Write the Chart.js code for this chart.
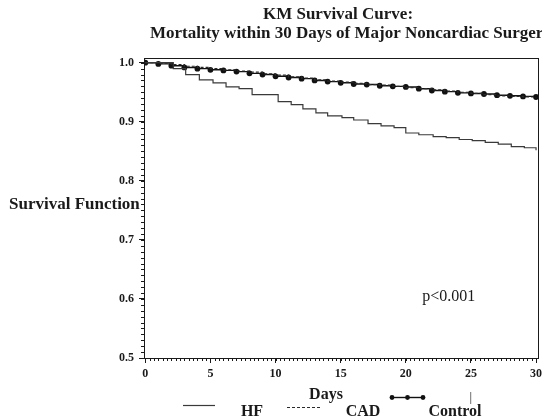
<!DOCTYPE html>
<html>
<head>
<meta charset="utf-8">
<script src="https://cdn.jsdelivr.net/npm/chart.js@4.4.1/dist/chart.umd.min.js"></script>
<style>
  body { margin: 0; background: #fff; }
  #wrap { width: 542px; height: 419px; }
</style>
</head>
<body>
<div id="wrap"><canvas id="km"></canvas></div>
<script>
// KM survival
const hfDays = [0, 2.15, 3.1, 4.15, 5.2, 6.2, 7.2, 8.2, 10.2, 11.2, 12.1, 13.1, 14.0, 15.1, 16.0, 17.1, 18.1, 19.1, 20.0, 21.0, 22.1, 23.1, 24.1, 25.1, 26.1, 27.1, 28.1, 29.1, 30.0];
const hfSurv = [1.0, 0.990, 0.980, 0.971, 0.966, 0.959, 0.956, 0.946, 0.934, 0.929, 0.922, 0.915, 0.910, 0.907, 0.903, 0.897, 0.893, 0.890, 0.881, 0.878, 0.875, 0.873, 0.870, 0.868, 0.865, 0.862, 0.858, 0.856, 0.852];

const dayList = [0, 1, 2, 3, 4, 5, 6, 7, 8, 9, 10, 11, 12, 13, 14, 15, 16, 17, 18, 19, 20, 21, 22, 23, 24, 25, 26, 27, 28, 29, 30];
const cadSurv = [1.0, 0.999, 0.997, 0.994, 0.992, 0.990, 0.988, 0.986, 0.984, 0.981, 0.979, 0.976, 0.974, 0.971, 0.969, 0.967, 0.965, 0.963, 0.962, 0.960, 0.958, 0.956, 0.954, 0.952, 0.950, 0.948, 0.946, 0.944, 0.943, 0.942, 0.941];
const ctrlSurv = [1.0, 0.998, 0.995, 0.992, 0.990, 0.988, 0.987, 0.985, 0.982, 0.980, 0.977, 0.975, 0.973, 0.970, 0.968, 0.966, 0.964, 0.963, 0.961, 0.960, 0.959, 0.956, 0.953, 0.951, 0.949, 0.948, 0.947, 0.945, 0.944, 0.943, 0.942];

const xTicks = [0, 5, 10, 15, 20, 25, 30];
const yTicks = [0.5, 0.6, 0.7, 0.8, 0.9, 1.0];
const titleLines = ['KM Survival Curve:', 'Mortality within 30 Days of Major Noncardiac Surgery'];
const pText = 'p<0.001';

const SERIF = '"Liberation Serif", "Times New Roman", serif';
const INK = '#1a1a1a';

function pts(xs, ys) {
    return xs.map((x, i) => ({ x: x, y: ys[i] }));
}

// titles, frame, minor ticks, labels and the legend row
const decor = {
    id: 'decor',
    afterDraw(chart) {
        const ctx = chart.ctx;
        const a = chart.chartArea;
        const xs = chart.scales.x, ys = chart.scales.y;
        ctx.save();
        ctx.fillStyle = INK;
        ctx.strokeStyle = INK;

        // frame top/right
        ctx.lineWidth = 1;
        ctx.strokeRect(a.left + 0.5, a.top + 0.5, a.right - a.left, a.bottom - a.top);

        // minor ticks
        ctx.beginPath();
        for (let i = 0; i <= 50; i++) {
            const py = Math.round(ys.getPixelForValue(0.5 + i * 0.01)) + 0.5;
            ctx.moveTo(a.left - 3, py);
            ctx.lineTo(a.left, py);
        }
        for (let i = 0; i <= 90; i++) {
            const px = Math.round(xs.getPixelForValue(i / 3)) + 0.5;
            ctx.moveTo(px, a.bottom);
            ctx.lineTo(px, a.bottom + 3);
        }
        ctx.stroke();

        // titles
        ctx.textBaseline = 'middle';
        ctx.font = 'bold 17px ' + SERIF;
        ctx.textAlign = 'center';
        ctx.fillText(titleLines[0], 338, 15);
        ctx.textAlign = 'left';
        ctx.fillText(titleLines[1], 150, 34);

        // y title, horizontal
        ctx.font = 'bold 17px ' + SERIF;
        ctx.fillText('Survival Function', 9, 205);

        // p value
        ctx.font = '16px ' + SERIF;
        ctx.textAlign = 'center';
        ctx.fillText(pText, xs.getPixelForValue(23.3), ys.getPixelForValue(0.603));

        // x title
        ctx.font = 'bold 16px ' + SERIF;
        ctx.fillText('Days', 326, 395);

        // stray mark under 25
        ctx.font = '13px ' + SERIF;
        ctx.fillText('|', xs.getPixelForValue(25), 398);

        // legend
        const ds = chart.data.datasets;
        const items = [
            { d: ds[0], x0: 183, x1: 215, y: 405, tx: 252 },
            { d: ds[1], x0: 287, x1: 320, y: 407, tx: 363 },
            { d: ds[2], x0: 392, x1: 423, y: 397, tx: 455 }
        ];
        items.forEach(it => {
            ctx.save();
            ctx.strokeStyle = it.d.borderColor;
            ctx.lineWidth = it.d.borderWidth;
            ctx.setLineDash(it.d.borderDash || []);
            ctx.beginPath();
            ctx.moveTo(it.x0, it.y + 0.5);
            ctx.lineTo(it.x1, it.y + 0.5);
            ctx.stroke();
            if (it.d.pointRadius > 0) {
                ctx.fillStyle = it.d.pointBackgroundColor;
                [it.x0, (it.x0 + it.x1) / 2, it.x1].forEach(px => {
                    ctx.beginPath();
                    ctx.arc(px, it.y + 0.5, 2.4, 0, Math.PI * 2);
                    ctx.fill();
                });
            }
            ctx.restore();
            ctx.font = 'bold 16px ' + SERIF;
            ctx.textAlign = 'center';
            ctx.fillText(it.d.label, it.tx, 412);
        });
        ctx.restore();
    }
};

new Chart(document.getElementById('km'), {
    type: 'line',
    data: {
        datasets: [{
            label: 'HF',
            data: pts(hfDays, hfSurv),
            borderColor: '#3a3a3a',
            borderWidth: 1.2,
            stepped: 'before',
            pointRadius: 0
        }, {
            label: 'CAD',
            data: pts(dayList, cadSurv),
            borderColor: '#2a2a2a',
            borderWidth: 1.2,
            borderDash: [3, 2],
            stepped: 'before',
            pointRadius: 0
        }, {
            label: 'Control',
            data: pts(dayList, ctrlSurv),
            borderColor: '#111',
            borderWidth: 1.4,
            stepped: 'before',
            pointRadius: 2.9,
            pointBackgroundColor: '#111',
            pointBorderColor: '#111',
            pointBorderWidth: 0
        }]
    },
    options: {
        responsive: true,
        maintainAspectRatio: false,
        animation: false,
        layout: { padding: { top: 58, left: 104, right: 3, bottom: 0 } },
        plugins: {
            legend: { display: false },
            tooltip: { enabled: false }
        },
        scales: {
            x: {
                type: 'linear',
                min: -0.1,
                max: 30.15,
                afterBuildTicks: s => { s.ticks = xTicks.map(v => ({ value: v })); },
                afterFit: s => { s.height = 61; s.paddingLeft = 0; s.paddingRight = 0; },
                ticks: {
                    color: INK,
                    font: { family: SERIF, size: 12, weight: 'bold' },
                    padding: 4,
                    maxRotation: 0,
                    callback: v => String(v)
                },
                grid: { drawOnChartArea: false, tickLength: 5, color: INK },
                border: { color: INK, width: 1 }
            },
            y: {
                type: 'linear',
                min: 0.5,
                max: 1.008,
                afterBuildTicks: s => { s.ticks = yTicks.map(v => ({ value: v })); },
                afterFit: s => { s.width = 40; s.paddingTop = 0; s.paddingBottom = 0; },
                ticks: {
                    color: INK,
                    font: { family: SERIF, size: 12, weight: 'bold' },
                    padding: 5,
                    callback: v => v.toFixed(1)
                },
                grid: { drawOnChartArea: false, tickLength: 5, color: INK },
                border: { color: INK, width: 1 }
            }
        }
    },
    plugins: [decor]
});
</script>
</body>
</html>
